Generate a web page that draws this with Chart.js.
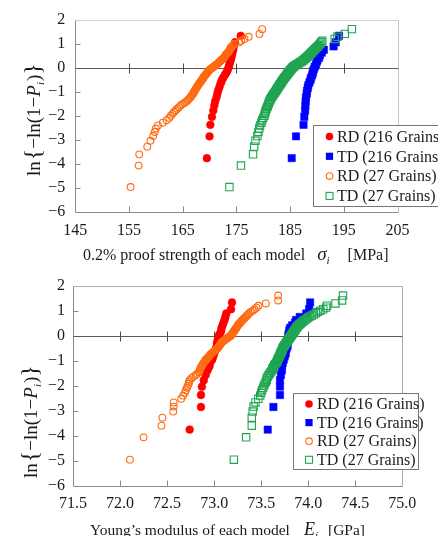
<!DOCTYPE html>
<html><head><meta charset="utf-8">
<script src="https://cdn.jsdelivr.net/npm/chart.js@4.4.1/dist/chart.umd.min.js"></script>
<style>
html,body{margin:0;padding:0;background:#fff;}
#wrap{position:relative;width:438px;height:536px;overflow:hidden;background:#fff;}
canvas{position:absolute;left:0;}
</style></head><body>
<div id="wrap">
<canvas id="c1" width="438" height="268" style="top:0px"></canvas>
<canvas id="c2" width="438" height="268" style="top:268px"></canvas>
</div>
<script>
// ---- data ----
const seriesLabels = ['RD (216 Grains)', 'TD (216 Grains)', 'RD (27 Grains)', 'TD (27 Grains)'];
const yTicks = [-6, -5, -4, -3, -2, -1, 0, 1, 2];
const strengthTicks = [145, 155, 165, 175, 185, 195, 205];
const modulusTicks = [71.5, 72.0, 72.5, 73.0, 73.5, 74.0, 74.5, 75.0];

// ln{-ln(1-P_i)} of the ranked models: 30 models (216 grains), 100 models (27 grains)
const Y30 = [-3.760,-2.855,-2.375,-2.042,-1.784,-1.572,-1.390,-1.231,-1.087,-0.956,-0.835,-0.722,-0.615,-0.512,-0.414,-0.319,-0.227,-0.136,-0.046,0.043,0.133,0.224,0.317,0.414,0.515,0.624,0.745,0.884,1.059,1.327];
const Y100 = [-4.962,-4.070,-3.602,-3.282,-3.038,-2.840,-2.673,-2.528,-2.401,-2.287,
-2.183,-2.088,-2.001,-1.919,-1.843,-1.772,-1.704,-1.640,-1.579,-1.521,
-1.466,-1.413,-1.361,-1.312,-1.265,-1.218,-1.174,-1.131,-1.089,-1.048,
-1.008,-0.969,-0.931,-0.894,-0.858,-0.822,-0.788,-0.753,-0.720,-0.687,
-0.654,-0.622,-0.591,-0.560,-0.529,-0.499,-0.469,-0.439,-0.410,-0.381,
-0.352,-0.324,-0.295,-0.267,-0.239,-0.212,-0.184,-0.157,-0.129,-0.102,
-0.075,-0.048,-0.021,0.006,0.033,0.061,0.088,0.115,0.142,0.170,
0.197,0.225,0.253,0.281,0.309,0.338,0.367,0.397,0.426,0.457,
0.488,0.519,0.551,0.584,0.618,0.653,0.689,0.726,0.765,0.806,
0.849,0.894,0.943,0.996,1.054,1.119,1.194,1.285,1.406,1.603];

// 0.2% proof strength [MPa]
const rd216Strength = [169.5,170.0,170.15,170.45,170.7,170.9,171.05,171.3,171.45,171.6,
171.8,171.95,172.15,172.3,172.55,172.8,173.05,173.3,173.45,173.6,
173.7,173.8,173.95,174.05,174.15,174.25,174.4,174.5,174.75,175.8];
const td216Strength = [185.3,186.1,187.5,187.65,187.8,187.85,187.9,187.95,188.1,188.15,
188.3,188.4,188.6,188.8,188.9,189.1,189.2,189.3,189.45,189.6,
189.8,189.95,190.1,190.4,190.55,190.9,191.3,193.1,193.5,194.1];
const rd27Strength = [155.3,156.8,156.9,158.4,159.0,159.5,159.8,160.0,160.4,161.3,
162.0,162.5,162.8,163.1,163.4,163.7,164.0,164.3,164.6,164.9,
165.3,165.6,165.9,166.1,166.3,166.5,166.6,166.75,166.9,167.0,
167.1,167.2,167.3,167.4,167.5,167.6,167.7,167.8,167.9,168.0,
168.1,168.2,168.3,168.4,168.5,168.6,168.7,168.8,168.85,168.95,
169.05,169.15,169.25,169.35,169.45,169.55,169.65,169.75,169.85,169.95,
170.1,170.25,170.4,170.55,170.7,170.9,171.05,171.2,171.35,171.5,
171.65,171.75,171.9,172.0,172.15,172.3,172.45,172.6,172.7,172.8,
172.9,173.0,173.1,173.2,173.35,173.5,173.6,173.7,173.8,173.9,
174.0,174.2,174.4,174.7,175.5,175.9,176.5,177.3,179.3,179.8];
const td27Strength = [173.7,175.85,178.1,178.3,178.55,178.9,179.1,179.25,179.4,179.65,
179.8,180.0,180.2,180.3,180.4,180.5,180.6,180.75,180.85,180.95,
181.05,181.1,181.25,181.35,181.45,181.6,181.7,181.85,181.95,182.1,
182.2,182.35,182.45,182.55,182.65,182.75,182.85,182.95,183.05,183.15,
183.25,183.35,183.4,183.5,183.6,183.7,183.8,183.9,184.0,184.1,
184.2,184.3,184.4,184.5,184.55,184.65,184.75,184.85,184.95,185.05,
185.15,185.25,185.35,185.45,185.6,185.75,185.9,186.1,186.3,186.5,
186.7,186.9,187.1,187.3,187.45,187.6,187.75,187.9,188.05,188.2,
188.35,188.5,188.65,188.8,188.95,189.1,189.25,189.4,189.6,189.8,
190.0,190.2,190.4,190.6,190.8,191.0,193.3,193.8,195.2,196.5];

// Young's modulus [GPa]
const rd216Modulus = [72.74,72.86,72.86,72.87,72.89,72.91,72.93,72.95,72.96,72.98,
72.99,73.0,73.01,73.02,73.03,73.03,73.035,73.04,73.05,73.055,
73.07,73.075,73.08,73.09,73.10,73.11,73.12,73.13,73.18,73.19];
const td216Modulus = [73.57,73.63,73.70,73.70,73.70,73.71,73.72,73.72,73.73,73.74,
73.75,73.76,73.76,73.77,73.78,73.78,73.78,73.79,73.79,73.79,
73.80,73.80,73.81,73.83,73.86,73.87,73.91,73.98,74.01,74.02];
const rd27Modulus = [72.105,72.25,72.44,72.45,72.565,72.57,72.57,72.65,72.67,72.69,
72.70,72.71,72.72,72.73,72.735,72.74,72.76,72.78,72.805,72.82,
72.84,72.845,72.85,72.855,72.86,72.87,72.875,72.88,72.89,72.90,
72.905,72.91,72.92,72.93,72.94,72.95,72.955,72.96,72.97,72.98,
72.99,73.0,73.01,73.02,73.03,73.04,73.045,73.05,73.055,73.06,
73.065,73.07,73.075,73.08,73.09,73.10,73.11,73.12,73.13,73.14,
73.15,73.16,73.17,73.18,73.185,73.19,73.195,73.20,73.205,73.21,
73.215,73.22,73.225,73.23,73.235,73.24,73.245,73.25,73.255,73.26,
73.27,73.28,73.285,73.29,73.30,73.31,73.32,73.33,73.34,73.35,
73.36,73.37,73.39,73.41,73.43,73.45,73.47,73.55,73.68,73.68];
const td27Modulus = [73.21,73.34,73.40,73.40,73.41,73.42,73.44,73.47,73.49,73.50,
73.51,73.52,73.53,73.54,73.55,73.56,73.56,73.57,73.58,73.59,
73.60,73.61,73.62,73.62,73.63,73.64,73.64,73.65,73.66,73.67,
73.67,73.675,73.68,73.685,73.69,73.695,73.70,73.70,73.705,73.71,
73.715,73.72,73.72,73.725,73.73,73.73,73.735,73.74,73.745,73.75,
73.755,73.76,73.765,73.77,73.775,73.78,73.785,73.79,73.795,73.80,
73.805,73.81,73.815,73.82,73.825,73.83,73.835,73.84,73.845,73.85,
73.855,73.86,73.865,73.87,73.875,73.88,73.885,73.89,73.90,73.91,
73.92,73.93,73.94,73.95,73.96,73.975,73.99,74.0,74.02,74.04,
74.06,74.08,74.10,74.13,74.16,74.19,74.20,74.29,74.36,74.37];

// ---- drawing ----
const SERIF = '"Liberation Serif", "Times New Roman", serif';
const COLORS = {rd216: '#ff0000', td216: '#0000ff', rd27: '#ff6a10', td27: '#1fa552'};

function pts(xs, ys) { return xs.map((v, i) => ({x: v, y: ys[i]})); }
function minus(v) { return v < 0 ? '\u2212' + Math.abs(v) : String(v); }

function drawRich(ctx, segs, x, y) {
  let cx = x;
  segs.forEach(s => {
    cx += (s.gap || 0);
    ctx.font = s.f;
    ctx.fillText(s.t, cx, y + (s.dy || 0));
    cx += ctx.measureText(s.t).width;
  });
}

function marker(ctx, kind, x, y) {
  ctx.save();
  ctx.lineWidth = 1.1;
  if (kind === 0) { ctx.fillStyle = COLORS.rd216; ctx.beginPath(); ctx.arc(x, y, 3.8, 0, Math.PI * 2); ctx.fill(); }
  if (kind === 1) { ctx.fillStyle = COLORS.td216; ctx.fillRect(x - 3.6, y - 3.6, 7.2, 7.2); }
  if (kind === 2) { ctx.strokeStyle = COLORS.rd27; ctx.beginPath(); ctx.arc(x, y, 3.3, 0, Math.PI * 2); ctx.stroke(); }
  if (kind === 3) { ctx.strokeStyle = COLORS.td27; ctx.strokeRect(x - 3.5, y - 3.5, 7, 7); }
  ctx.restore();
}

const deco = {
  id: 'deco',
  beforeDatasetsDraw(chart, args, o) {
    const {ctx, chartArea: a, scales: {x, y}} = chart;
    ctx.save();
    ctx.lineWidth = 1;
    const L = Math.round(a.left) + 0.5, R = Math.round(a.right) + 0.5;
    const T = Math.round(a.top) + 0.5, B = Math.round(a.bottom) + 0.5;
    function seg(x1, y1, x2, y2, c) { ctx.strokeStyle = c; ctx.beginPath(); ctx.moveTo(x1, y1); ctx.lineTo(x2, y2); ctx.stroke(); }
    seg(L, T, R, T, o.topColor);
    seg(R, T, R, B, o.rightColor);
    seg(L, B, R, B, '#8a8a8a');
    seg(L, T, L, B, '#8a8a8a');
    const y0 = Math.round(y.getPixelForValue(0)) + 0.5;
    seg(L, y0, R, y0, '#5a5a5a');
    o.innerX.forEach(v => {
      const px = Math.round(x.getPixelForValue(v)) + 0.5;
      seg(px, y0 - 5, px, y0 + 5, '#4a4a4a');
      seg(px, B - 6, px, B, '#8a8a8a');
    });
    yTicks.forEach(v => {
      if (v === yTicks[0] || v === yTicks[yTicks.length - 1] || v === 0) return;
      const py = Math.round(y.getPixelForValue(v)) + 0.5;
      seg(L, py, L + 5, py, '#8a8a8a');
    });
    ctx.restore();
  },
  afterDraw(chart, args, o) {
    const ctx = chart.ctx;
    ctx.save();
    ctx.fillStyle = '#1a1a1a';
    ctx.textBaseline = 'alphabetic';
    ctx.textAlign = 'left';
    drawRich(ctx, o.xTitle, o.xTitleX, o.xTitleY);
    ctx.save();
    ctx.translate(o.yTitleX, o.yTitleY);
    ctx.rotate(-Math.PI / 2);
    drawRich(ctx, o.yTitle, 0, 0);
    ctx.restore();
    const lg = o.legend;
    ctx.fillStyle = '#ffffff';
    ctx.fillRect(lg.x, lg.y, lg.w, lg.h);
    ctx.strokeStyle = '#777';
    ctx.lineWidth = 1;
    ctx.strokeRect(Math.round(lg.x) + 0.5, Math.round(lg.y) + 0.5, lg.w, lg.h);
    ctx.fillStyle = '#1a1a1a';
    ctx.font = '16px ' + SERIF;
    ctx.textBaseline = 'middle';
    seriesLabels.forEach((lab, i) => {
      const ry = lg.row0 + i * lg.step;
      marker(ctx, i, lg.mx, ry);
      ctx.fillText(lab, lg.tx, ry + 1);
    });
    ctx.restore();
  }
};

function yTitleSegs(sz) {
  return [
    {t: 'ln', f: sz + 'px ' + SERIF},
    {t: '{', f: (sz + 5) + 'px ' + SERIF, gap: 1},
    {t: '\u2212ln(1\u2212', f: sz + 'px ' + SERIF},
    {t: 'P', f: 'italic ' + sz + 'px ' + SERIF},
    {t: 'i', f: 'italic ' + Math.round(sz * 0.6) + 'px ' + SERIF, dy: 4},
    {t: ')', f: sz + 'px ' + SERIF, gap: 1},
    {t: '}', f: (sz + 5) + 'px ' + SERIF}
  ];
}

function makeChart(id, g) {
  const W = 438, H = 268;
  return new Chart(document.getElementById(id), {
    type: 'scatter',
    data: {
      datasets: [
        {label: seriesLabels[0], data: pts(g.d[0], Y30), pointStyle: 'circle', pointRadius: 3.9, backgroundColor: COLORS.rd216, borderColor: COLORS.rd216, borderWidth: 0.5, order: 3},
        {label: seriesLabels[1], data: pts(g.d[1], Y30), pointStyle: 'rect', pointRadius: 5.2, backgroundColor: COLORS.td216, borderColor: COLORS.td216, borderWidth: 0.5, order: 2},
        {label: seriesLabels[2], data: pts(g.d[2], Y100), pointStyle: 'circle', pointRadius: 3.4, backgroundColor: 'rgba(0,0,0,0)', borderColor: COLORS.rd27, borderWidth: 1.1, order: 1},
        {label: seriesLabels[3], data: pts(g.d[3], Y100), pointStyle: 'rect', pointRadius: 5.2, backgroundColor: 'rgba(0,0,0,0)', borderColor: COLORS.td27, borderWidth: 1.1, order: 0}
      ]
    },
    options: {
      responsive: false,
      animation: false,
      events: [],
      devicePixelRatio: 1,
      layout: {padding: {left: 0, top: g.top, right: W - g.right, bottom: 0}},
      plugins: {
        legend: {display: false},
        tooltip: {enabled: false},
        deco: g.deco
      },
      scales: {
        x: {
          type: 'linear', min: g.xTicks[0], max: g.xTicks[g.xTicks.length - 1],
          afterBuildTicks: s => { s.ticks = g.xTicks.map(v => ({value: v})); },
          afterFit: s => { s.height = H - g.bottom; },
          grid: {display: false, drawTicks: false},
          border: {display: false},
          ticks: {autoSkip: false, maxRotation: 0, padding: g.xPad, color: '#1a1a1a',
                  font: {family: SERIF, size: 16}, callback: g.xFmt}
        },
        y: {
          type: 'linear', min: -6, max: 2,
          afterBuildTicks: s => { s.ticks = yTicks.map(v => ({value: v})); },
          afterFit: s => { s.width = g.left; },
          grid: {display: false, drawTicks: false},
          border: {display: false},
          ticks: {autoSkip: false, padding: g.yPad, color: '#1a1a1a',
                  font: {family: SERIF, size: 16}, callback: v => minus(v)}
        }
      }
    },
    plugins: [deco]
  });
}

makeChart('c1', {
  left: 75.3, right: 397.5, top: 19, bottom: 212, xPad: 9, yPad: 10,
  xTicks: strengthTicks, xFmt: v => String(v),
  d: [rd216Strength, td216Strength, rd27Strength, td27Strength],
  deco: {
    topColor: '#d0d0d0', rightColor: '#c4c4c4',
    innerX: strengthTicks.slice(1, -1),
    xTitle: [
      {t: '0.2% proof strength of each model', f: '16px ' + SERIF},
      {t: '\u03c3', f: 'italic 19px ' + SERIF, gap: 12},
      {t: 'i', f: 'italic 11px ' + SERIF, dy: 4},
      {t: '[MPa]', f: '16px ' + SERIF, gap: 18}
    ],
    xTitleX: 83, xTitleY: 260,
    yTitle: yTitleSegs(19), yTitleX: 40, yTitleY: 176,
    legend: {x: 313, y: 125, w: 140, h: 81, row0: 136.5, step: 19.8, mx: 329.5, tx: 337}
  }
});

makeChart('c2', {
  left: 73, right: 402.3, top: 12.8, bottom: 217.6, xPad: 9, yPad: 8,
  xTicks: modulusTicks, xFmt: v => Number(v).toFixed(1),
  d: [rd216Modulus, td216Modulus, rd27Modulus, td27Modulus],
  deco: {
    topColor: '#b0b0b0', rightColor: '#a8a8a8',
    innerX: modulusTicks.slice(1, -1),
    xTitle: [
      {t: 'Young\u2019s modulus of each model', f: '15.5px ' + SERIF},
      {t: 'E', f: 'italic 18px ' + SERIF, gap: 14},
      {t: 'i', f: 'italic 11px ' + SERIF, dy: 4},
      {t: '[GPa]', f: '15.5px ' + SERIF, gap: 10}
    ],
    xTitleX: 90, xTitleY: 267,
    yTitle: yTitleSegs(19), yTitleX: 37, yTitleY: 210,
    legend: {x: 293, y: 125, w: 125, h: 76, row0: 136, step: 18.6, mx: 309, tx: 317}
  }
});
</script>
</body></html>
